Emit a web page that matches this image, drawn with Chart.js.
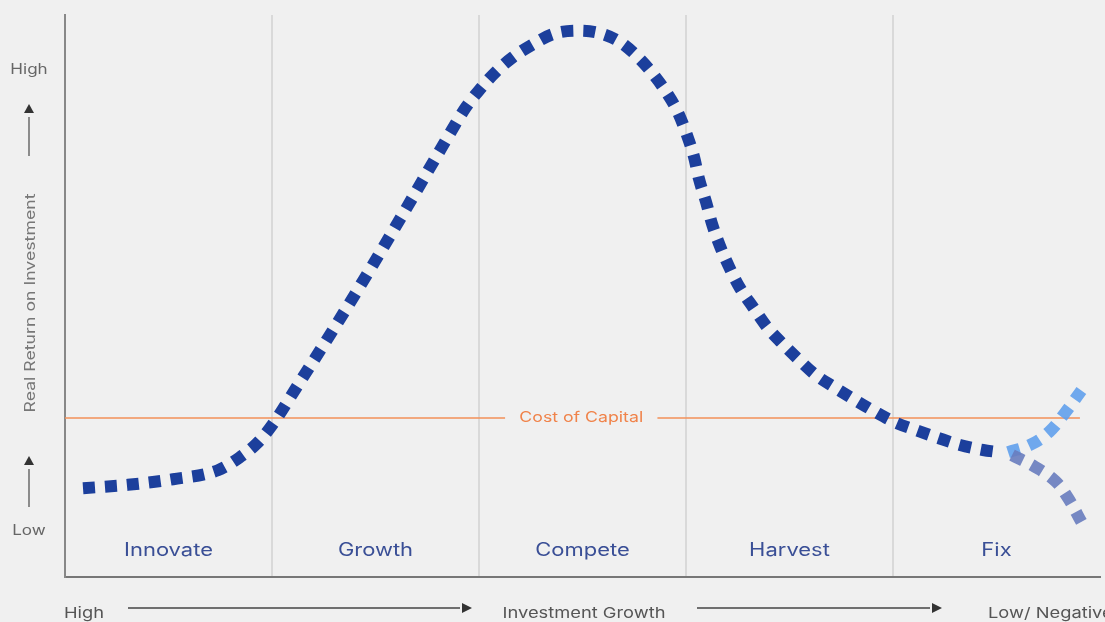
<!DOCTYPE html>
<html>
<head>
<meta charset="utf-8">
<script src="https://cdn.jsdelivr.net/npm/chart.js@4"></script>
<style>
html,body{margin:0;padding:0;background:#f0f0f0;}
#wrap{width:1105px;height:622px;position:relative;}
</style>
</head>
<body>
<div id="wrap"><canvas id="c" width="1105" height="622"></canvas></div>
<script>
// ---- data ----
const stageLabels = ['Innovate', 'Growth', 'Compete', 'Harvest', 'Fix'];
const curveX = [0.087,0.304,0.522,0.739,0.841,0.928,1.0,1.126,1.304,1.478,1.652,1.821,1.937,2.005,2.082,2.164,2.261,2.357,2.469,2.580,2.681,2.768,2.841,2.908,2.961,3.005,3.039,3.063,3.097,3.126,3.164,3.208,3.261,3.324,3.391,3.464,3.541,3.628,3.715,3.816,3.913,4.005,4.121,4.222,4.324,4.435,4.510];
const curveY = [15.8,16.4,17.4,19.0,21.2,23.8,27.0,34.2,44.5,55.0,65.8,76.5,83.6,86.8,89.9,92.5,94.8,96.6,97.2,96.8,95.2,92.5,89.5,86.1,82.7,78.6,74.7,70.8,66.7,62.8,58.9,55.2,51.4,48.0,44.5,41.6,38.8,35.9,33.8,31.5,29.4,27.6,26.0,24.7,23.5,22.6,22.2];
const upX = [4.556,4.662,4.754,4.831,4.910];
const upY = [22.2,23.5,25.8,29.2,33.2];
const downX = [4.575,4.686,4.783,4.845,4.910];
const downY = [21.7,19.6,17.1,14.1,9.8];
const costOfCapital = 28.3;
const costLineX = [0, 2.126, 2.862, 4.903];
const yTickValues = [90.2, 8.2];
const yTickLabels = ['High', 'Low'];
const yTitle = 'Real Return on Investment';
const xTitle = 'Investment Growth';
const xLowLabel = 'High';
const xHighLabel = 'Low/ Negative';
const costLabel = 'Cost of Capital';

const FONT = 'Inter, "Noto Sans", sans-serif';
const STRETCH = 1.22;
const pts = (xs, ys) => xs.map((x, i) => ({x, y: ys[i]}));

const bgPlugin = {
  id: 'bg',
  beforeDraw(chart) {
    const ctx = chart.ctx;
    ctx.save();
    ctx.fillStyle = '#f0f0f0';
    ctx.fillRect(0, 0, chart.width, chart.height);
    ctx.restore();
  }
};

function txt(ctx, s, x, y, align, rot) {
  ctx.save();
  ctx.translate(x, y);
  if (rot) ctx.rotate(rot);
  ctx.scale(STRETCH, 1);
  ctx.textAlign = align;
  ctx.textBaseline = 'middle';
  ctx.fillText(s, 0, 0);
  ctx.restore();
}
function arrowUp(ctx, x, tipY, lineEnd) {
  ctx.beginPath();
  ctx.moveTo(x, tipY); ctx.lineTo(x - 5, tipY + 9); ctx.lineTo(x + 5, tipY + 9); ctx.closePath();
  ctx.fill();
  ctx.beginPath();
  ctx.moveTo(x, tipY + 13); ctx.lineTo(x, lineEnd); ctx.stroke();
}
function arrowRight(ctx, x0, x1, y) {
  ctx.beginPath();
  ctx.moveTo(x0, y); ctx.lineTo(x1 - 12, y); ctx.stroke();
  ctx.beginPath();
  ctx.moveTo(x1, y); ctx.lineTo(x1 - 10, y - 5); ctx.lineTo(x1 - 10, y + 5); ctx.closePath();
  ctx.fill();
}

const textPlugin = {
  id: 'texts',
  afterDatasetsDraw(chart) {
    const ctx = chart.ctx;
    const xs = chart.scales.x, ys = chart.scales.y;
    ctx.save();
    // stage labels
    ctx.fillStyle = '#3a4f96';
    ctx.font = '18px ' + FONT;
    stageLabels.forEach((s, i) => txt(ctx, s, xs.getPixelForValue(i + 0.5), 551, 'center'));
    // cost of capital label
    ctx.fillStyle = '#f0834a';
    ctx.font = '14.5px ' + FONT;
    txt(ctx, costLabel, xs.getPixelForValue((costLineX[1] + costLineX[2]) / 2), ys.getPixelForValue(costOfCapital), 'center');
    // y tick labels
    ctx.fillStyle = '#666';
    ctx.font = '14px ' + FONT;
    yTickValues.forEach((v, i) => txt(ctx, yTickLabels[i], 29, ys.getPixelForValue(v), 'center'));
    // arrows
    ctx.strokeStyle = '#555'; ctx.fillStyle = '#333'; ctx.lineWidth = 1.3;
    arrowUp(ctx, 29, 104, 156);
    arrowUp(ctx, 29, 456, 507);
    // y title
    ctx.fillStyle = '#777';
    ctx.font = '14.5px ' + FONT;
    txt(ctx, yTitle, 31, 303, 'center', -Math.PI / 2);
    // bottom texts
    ctx.fillStyle = '#555';
    ctx.font = '15px ' + FONT;
    txt(ctx, xLowLabel, 64, 613, 'left');
    txt(ctx, xHighLabel, 988, 613, 'left');
    txt(ctx, xTitle, 584, 613, 'center');
    ctx.strokeStyle = '#444'; ctx.fillStyle = '#333';
    arrowRight(ctx, 128, 472, 608);
    arrowRight(ctx, 697, 942, 608);
    ctx.restore();
  }
};

new Chart(document.getElementById('c'), {
  type: 'scatter',
  data: {
    datasets: [
      {
        data: pts(curveX, curveY), showLine: true, borderColor: '#1c3f9c', borderWidth: 12,
        borderDash: [12, 10], pointRadius: 0, cubicInterpolationMode: 'monotone', order: 0
      },
      {
        data: pts(downX, downY), showLine: true, borderColor: 'rgba(104,124,190,0.9)', borderWidth: 12,
        borderDash: [12, 10], pointRadius: 0, tension: 0.4, order: 1
      },
      {
        data: pts(upX, upY), showLine: true, borderColor: 'rgba(96,160,236,0.9)', borderWidth: 12,
        borderDash: [12, 10], pointRadius: 0, tension: 0.4, order: 2
      },
      {
        data: [{x: costLineX[0], y: costOfCapital}, {x: costLineX[1], y: costOfCapital}],
        showLine: true, borderColor: '#f39058', borderWidth: 1.5, pointRadius: 0, order: 5
      },
      {
        data: [{x: costLineX[2], y: costOfCapital}, {x: costLineX[3], y: costOfCapital}],
        showLine: true, borderColor: '#f39058', borderWidth: 1.5, pointRadius: 0, order: 5
      }
    ]
  },
  options: {
    responsive: false,
    animation: false,
    layout: {padding: {top: 15, right: 5, left: 0, bottom: 0}},
    plugins: {legend: {display: false}, tooltip: {enabled: false}},
    scales: {
      x: {
        type: 'linear', min: 0, max: 5,
        ticks: {display: false, stepSize: 1},
        grid: {
          drawTicks: false, lineWidth: 2,
          color: (c) => (c.tick && (c.tick.value === 0 || c.tick.value === 5)) ? 'rgba(0,0,0,0)' : '#d9d9d9'
        },
        border: {display: true, color: '#777', width: 2},
        afterFit(s) { s.height = 45; }
      },
      y: {
        type: 'linear', min: 0, max: 100,
        ticks: {display: false},
        grid: {display: false, drawTicks: false},
        border: {display: true, color: '#888', width: 2},
        afterFit(s) { s.width = 65; }
      }
    }
  },
  plugins: [bgPlugin, textPlugin]
});
</script>
</body>
</html>
